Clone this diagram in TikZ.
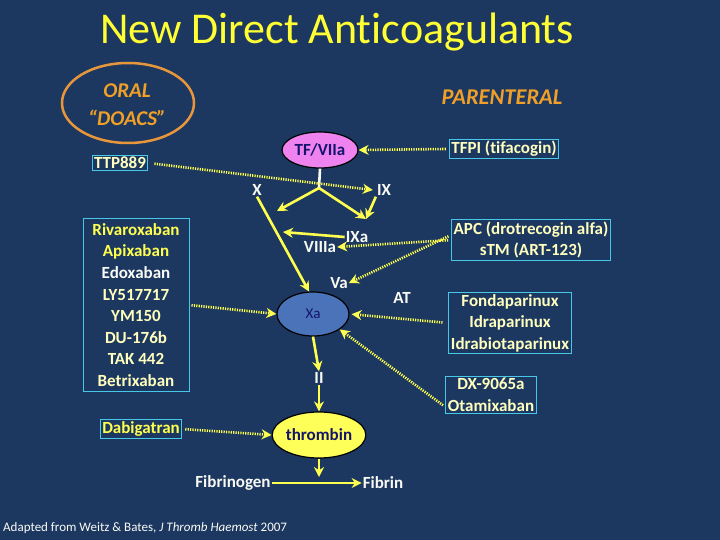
\documentclass[tikz,border=0pt]{standalone}
\usepackage{fontspec}
\setmainfont[Ligatures=NoCommon]{Carlito}
\usetikzlibrary{arrows.meta,shapes.geometric}
\definecolor{bg}{RGB}{28,56,96}
\definecolor{ttl}{RGB}{255,255,51}
\definecolor{ylw}{RGB}{255,255,80}
\definecolor{pale}{RGB}{255,255,190}
\definecolor{wht}{RGB}{250,250,245}
\definecolor{org}{RGB}{232,150,60}
\definecolor{orgtxt}{RGB}{240,160,40}
\definecolor{cyanb}{RGB}{70,200,230}
\definecolor{navy}{RGB}{20,20,110}
\definecolor{pinkf}{RGB}{238,130,238}
\definecolor{xafill}{RGB}{75,115,185}
\definecolor{thrf}{RGB}{255,255,90}
\begin{document}
\begin{tikzpicture}[x=1pt,y=-1pt,
  lbl/.style={text=wht,font=\fontsize{17}{20}\selectfont\bfseries,inner sep=1pt},
  boxn/.style={draw=cyanb,line width=1pt,text=pale,align=center,inner sep=2pt,
     font=\fontsize{17}{21.6}\selectfont\bfseries},
  solidarr/.style={draw=ylw,line width=2.6pt,-{Stealth[length=10pt,width=10pt]}},
  dotarr/.style={draw=ylw,line width=2.6pt,dash pattern=on 1.2pt off 1.2pt,-{Stealth[length=10pt,width=10pt]}},
  cat/.style={text=orgtxt,font=\fontsize{21}{28}\selectfont\bfseries\itshape,align=center},
  oval/.style={ellipse,draw=black,line width=1.2pt,inner sep=0pt}]
\fill[bg] (0,0) rectangle (720,540);
\useasboundingbox (0,0) rectangle (720,540);

\node[text=ttl,font=\fontsize{44}{48}\selectfont] (title) at (337,32) {New Direct Anticoagulants};

\node[ellipse,draw=org,line width=2.5pt,minimum width=132pt,minimum height=80pt] (oralring) at (128,103) {};
\node[cat] (oral) at (127,105) {ORAL\\“DOACS”};
\node[cat,font=\fontsize{22.5}{28}\selectfont\bfseries\itshape] (par) at (502,97) {PARENTERAL};

% pathway nodes
\node[oval,fill=pinkf,minimum width=76pt,minimum height=36pt,text=navy,font=\fontsize{17}{20}\selectfont\bfseries] (tf) at (320,150) {TF/VIIa};
\node[lbl] (xl) at (257,190) {X};
\node[lbl] (ix) at (384,190) {IX};
\node[lbl] (ixa) at (357,237) {IXa};
\node[lbl] (viiia) at (320,247) {VIIIa};
\node[lbl] (va) at (339,283) {Va};
\node[lbl] (at) at (402,298) {AT};
\node[oval,fill=xafill,minimum width=72pt,minimum height=44pt,text=navy,font=\fontsize{15}{18}\selectfont] (xa) at (313,314) {Xa};
\node[lbl] (ii) at (319,378) {II};
\node[oval,fill=thrf,minimum width=82pt,minimum height=46pt,text=navy,font=\fontsize{17}{20}\selectfont\bfseries] (thr) at (319,435) {thrombin};
\node[lbl] (fgen) at (233,483) {Fibrinogen};
\node[lbl] (fib) at (383,483) {Fibrin};

\coordinate (split) at (319,188);
\coordinate (lend) at (277,211);
\coordinate (ixend) at (366,219);
\coordinate (ixal) at (283,232);

% drug boxes
\node[boxn] (tfpi) at (504,149) {TFPI (tifacogin)};
\node[boxn] (ttp) at (120,163) {TTP889};
\node[boxn] (apc) at (531,240) {APC (drotrecogin alfa)\\sTM (ART-123)};
\node[boxn] (fonda) at (510,323) {Fondaparinux\\Idraparinux\\Idrabiotaparinux};
\node[boxn] (dx) at (491,395) {DX-9065a\\Otamixaban};
\node[boxn,minimum width=106pt,minimum height=173pt] (riva) at (136,305) {\textcolor{ylw}{Rivaroxaban}\\\textcolor{ylw}{Apixaban}\\\textcolor{wht}{Edoxaban}\\LY517717\\YM150\\DU-176b\\TAK 442\\Betrixaban};
\node[boxn,text=ylw] (dabi) at (141,429) {Dabigatran};

% solid connectors
\draw[draw=wht,line width=2.6pt] (tf.south) -- (split);
\draw[solidarr] (split) -- (lend);
\draw[solidarr] (split) -- (ixend);
\draw[solidarr] (ix.south west) -- (ixend);
\draw[solidarr] (ixa.west) -- (ixal);
\draw[solidarr] (xl.south) -- (xa.100);
\draw[solidarr] (xa.south) -- (ii.north);
\draw[solidarr] (ii.south) -- (thr.north);
\draw[solidarr] (thr.south) -- (319,477);
\draw[solidarr] (fgen.east) -- (fib.west);

% dotted connectors
\draw[dotarr] (tfpi.west) ++(-3,0) -- (tf.east);
\draw[dotarr,shorten <=6pt] (ttp.east) -- ([xshift=-3pt]ix.west);
\draw[dotarr,shorten <=3pt] (apc.west) -- (viiia.east);
\draw[dotarr,shorten <=3pt] ([yshift=5pt]apc.west) -- (va.east);
\draw[dotarr,shorten <=6pt,shorten >=2pt] (fonda.west) -- (xa.east);
\draw[dotarr,shorten <=3pt] ([yshift=-12pt]dx.west) -- (xa.-30);
\draw[dotarr,shorten <=2pt] (riva.east) -- (xa.west);
\draw[dotarr,shorten <=3pt] (dabi.east) -- (thr.west);

\node[text=wht,font=\fontsize{13}{15}\selectfont,anchor=west,inner sep=0pt] (foot) at (3,528) {Adapted from Weitz \& Bates, \textit{J Thromb Haemost} 2007};
\end{tikzpicture}
\end{document}
